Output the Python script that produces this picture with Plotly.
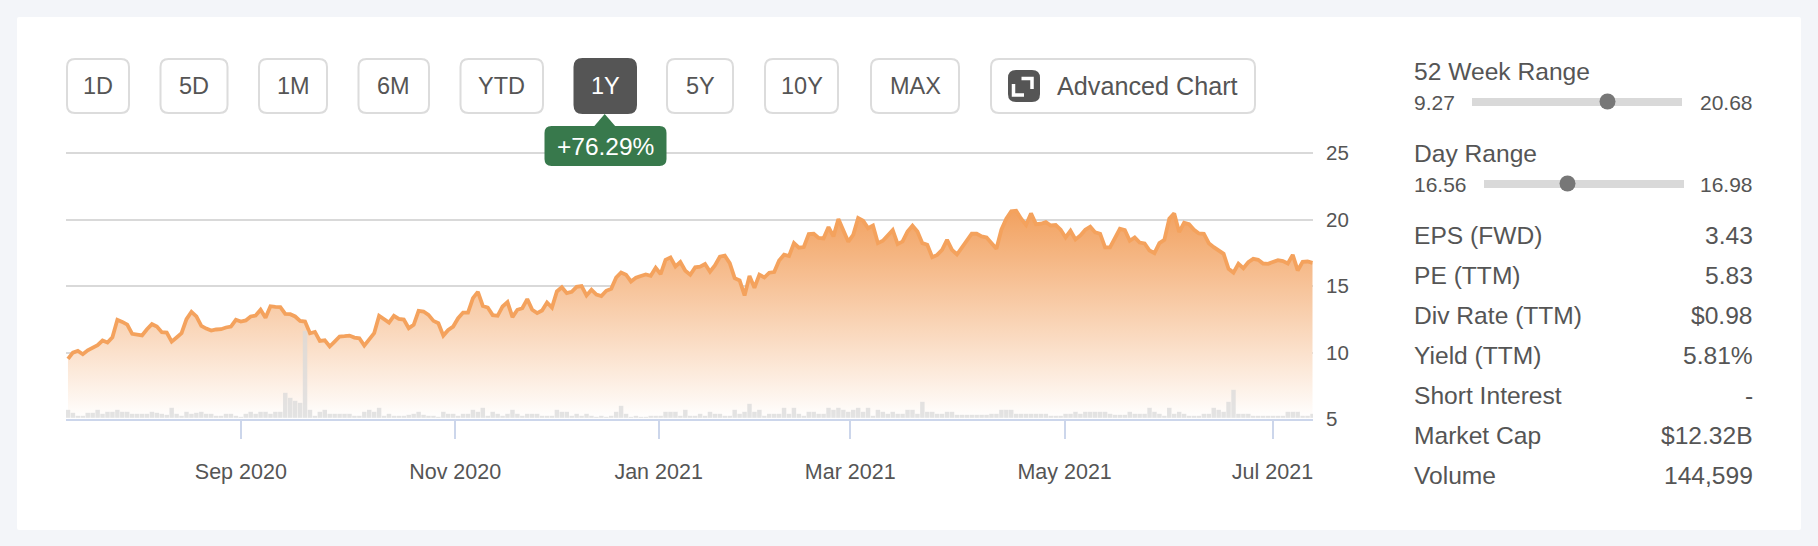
import pandas as pd
import plotly.graph_objects as go

W, H = 1818, 546
FONT = "Liberation Sans"
TXT = "#555555"

HOLIDAYS = ["2020-09-07", "2020-11-26", "2020-12-25", "2021-01-01", "2021-01-18",
            "2021-02-15", "2021-04-02", "2021-05-31", "2021-07-05"]
dates = [d.strftime("%Y-%m-%d") for d in pd.bdate_range("2020-07-14", "2021-07-14")
         if d.strftime("%Y-%m-%d") not in HOLIDAYS]

price = [
 9.52, 9.99, 10.12, 9.87, 10.17, 10.40, 10.55, 10.90, 10.75, 11.15,
 12.46, 12.30, 12.10, 11.40, 11.33, 11.28, 11.75, 12.13, 11.95, 11.53,
 11.50, 10.82, 11.13, 11.45, 12.51, 13.06, 12.71, 12.00, 11.80, 11.65,
 11.73, 11.75, 11.88, 11.95, 12.46, 12.33, 12.41, 12.71, 12.78, 13.21,
 12.61, 13.48, 13.43, 13.41, 12.91, 12.88, 12.71, 12.38, 12.33, 11.45,
 11.55, 10.87, 10.92, 10.45, 10.82, 11.20, 11.23, 11.27, 11.12, 11.07,
 10.52, 11.00, 11.45, 12.76, 12.51, 12.25, 12.76, 12.53, 12.48, 11.83,
 12.08, 13.13, 13.08, 12.83, 12.38, 12.20, 11.27, 11.70, 11.95, 12.58,
 13.00, 13.00, 14.09, 14.56, 13.50, 13.38, 12.81, 12.76, 13.46, 13.79,
 12.66, 13.21, 13.33, 14.01, 13.21, 12.96, 13.16, 13.76, 13.38, 14.59,
 14.91, 14.46, 14.56, 14.94, 15.00, 14.29, 14.72, 14.36, 14.24, 14.64,
 14.79, 15.64, 16.02, 15.85, 15.34, 15.62, 15.75, 15.87, 15.77, 16.37,
 15.90, 16.97, 17.15, 16.47, 16.80, 16.15, 15.85, 16.40, 16.45, 16.65,
 16.07, 16.55, 17.20, 17.28, 16.72, 15.59, 15.42, 14.29, 15.75, 14.87,
 15.85, 15.64, 16.00, 16.05, 16.92, 17.35, 17.25, 18.23, 17.88, 17.93,
 18.91, 18.93, 18.61, 18.58, 19.43, 18.73, 20.04, 19.23, 18.33, 18.85,
 20.11, 19.91, 19.35, 19.55, 18.22, 18.40, 18.80, 19.20, 18.15, 18.35,
 19.10, 19.53, 19.10, 18.22, 18.10, 17.17, 17.34, 17.72, 18.47, 17.72,
 17.37, 17.90, 18.52, 18.93, 18.93, 18.73, 18.65, 18.22, 17.80, 19.23,
 20.06, 20.61, 20.66, 20.06, 19.60, 20.46, 19.65, 19.68, 19.80, 19.55,
 19.58, 19.23, 18.65, 19.15, 18.50, 18.80, 19.23, 19.45, 19.03, 18.93,
 17.90, 17.90, 18.60, 19.30, 19.20, 18.40, 18.65, 18.27, 18.20, 17.67,
 17.47, 18.22, 18.47, 20.06, 20.46, 19.05, 19.75, 19.65, 19.23, 18.95,
 18.93, 18.22, 17.92, 17.67, 17.42, 16.29, 16.01, 16.67, 16.34, 16.79,
 17.04, 16.97, 16.69, 16.67, 16.79, 16.94, 16.87, 16.69, 17.34, 16.17,
 16.82, 16.84, 16.74,
]

# Volume, thousands of shares (scale)
volume = [
 400, 250, 100, 100, 250, 250, 400, 200, 300, 300,
 400, 300, 300, 200, 200, 200, 200, 300, 250, 200,
 150, 500, 200, 100, 300, 200, 250, 300, 200, 200,
 100, 100, 200, 200, 100, 50, 200, 300, 200, 300,
 300, 200, 300, 300, 1250, 1000, 850, 750, 4350, 400,
 100, 300, 400, 200, 200, 200, 200, 200, 100, 100,
 300, 400, 300, 500, 100, 200, 100, 100, 100, 150,
 200, 300, 150, 100, 100, 50, 300, 200, 200, 100,
 200, 200, 400, 300, 500, 100, 300, 200, 100, 200,
 400, 200, 100, 200, 200, 200, 100, 100, 100, 400,
 300, 300, 100, 200, 100, 200, 100, 50, 100, 50,
 100, 300, 600, 200, 50, 100, 50, 50, 100, 100,
 100, 300, 300, 300, 100, 400, 100, 100, 200, 100,
 300, 200, 200, 100, 100, 400, 200, 300, 700, 300,
 400, 100, 200, 200, 200, 500, 200, 500, 200, 100,
 300, 300, 200, 200, 500, 400, 500, 400, 300, 400,
 500, 300, 500, 100, 400, 300, 200, 300, 200, 200,
 400, 400, 200, 800, 300, 300, 200, 200, 300, 300,
 150, 150, 150, 150, 150, 150, 150, 200, 200, 400,
 400, 400, 200, 200, 200, 200, 200, 200, 200, 100,
 100, 100, 200, 200, 300, 200, 300, 300, 300, 300,
 300, 200, 150, 150, 150, 300, 200, 200, 200, 500,
 300, 200, 100, 500, 200, 300, 200, 100, 100, 100,
 200, 200, 500, 400, 300, 800, 1400, 200, 200, 200,
 100, 100, 100, 100, 100, 100, 100, 300, 300, 300,
 100, 100, 200,
]

# Ordinal position of each month label along the trading-day axis
tick_positions = [35, 78.4, 119.6, 158.4, 201.8, 243.9]
tick_labels = ["Sep 2020", "Nov 2020", "Jan 2021", "Mar 2021", "May 2021", "Jul 2021"]
price_ticks = [5, 10, 15, 20, 25]

period_labels = ["1D", "5D", "1M", "6M", "YTD", "1Y", "5Y", "10Y", "MAX"]
active_period = "1Y"
change_label = "+76.29%"
adv_label = "Advanced Chart"

stat_labels = ["EPS (FWD)", "PE (TTM)", "Div Rate (TTM)", "Yield (TTM)", "Short Interest", "Market Cap", "Volume"]
stat_values = ["3.43", "5.83", "$0.98", "5.81%", "-", "$12.32B", "144,599"]

# Pixel helpers for the page furniture
def fx(x): return x / W
def fy(y): return 1 - y / H

def rrect(x0, y0, x1, y1, r):
    pts = [("M", x0 + r, y0), ("L", x1 - r, y0), ("Q", x1, y0, x1, y0 + r), ("L", x1, y1 - r),
           ("Q", x1, y1, x1 - r, y1), ("L", x0 + r, y1), ("Q", x0, y1, x0, y1 - r),
           ("L", x0, y0 + r), ("Q", x0, y0, x0 + r, y0)]
    out = []
    for p in pts:
        if p[0] == "Q":
            out.append(f"Q{fx(p[1])},{fy(p[2])} {fx(p[3])},{fy(p[4])}")
        else:
            out.append(f"{p[0]}{fx(p[1])},{fy(p[2])}")
    return " ".join(out) + " Z"

def poly(points, close=False):
    s = " ".join(("M" if i == 0 else "L") + f"{fx(x)},{fy(y)}" for i, (x, y) in enumerate(points))
    return s + (" Z" if close else "")

shapes, annos = [], []

def box(x0, y0, x1, y1, r, fill, line=None, lw=0, layer="above"):
    shapes.append(dict(type="path", path=rrect(x0, y0, x1, y1, r), xref="paper", yref="paper",
                       fillcolor=fill, line=dict(color=line or "rgba(0,0,0,0)", width=lw), layer=layer))

def text(x, y, s, size, color=TXT, anchor="left"):
    annos.append(dict(x=fx(x), y=fy(y), xref="paper", yref="paper", text=s, showarrow=False,
                      xanchor=anchor, yanchor="middle", borderpad=0, borderwidth=0,
                      font=dict(family=FONT, size=size, color=color)))

box(17, 17, 1801, 530, 2, "#ffffff", layer="below")

btn_x = [(67, 129), (160.5, 227.5), (259, 327), (358.5, 429), (460.5, 543), (574.5, 636),
         (667, 733), (765, 838), (871, 959)]
for lab, (a, b) in zip(period_labels, btn_x):
    on = lab == active_period
    box(a, 59, b, 113, 8, "#555555" if on else "#ffffff", "#555555" if on else "#dcdcdc", 2)
    text((a + b) / 2, 86, lab, 23.5, "#ffffff" if on else TXT, "center")

# change tag
shapes.append(dict(type="path", path=poly([(593.5, 127), (604.7, 114), (616, 127)], True),
                   xref="paper", yref="paper", fillcolor="#38794c", line=dict(width=0)))
box(544.5, 126, 666.5, 166, 7, "#38794c")
text(605.5, 146.5, change_label, 24.5, "#ffffff", "center")

# advanced chart button
box(991, 59, 1255, 113, 8, "#ffffff", "#dcdcdc", 2)
box(1008, 70, 1040, 102, 8, "#555555")
for pts in ([(1021.5, 78.5), (1032, 78.5), (1032, 89)], [(1013.5, 84), (1013.5, 95), (1024, 95)]):
    shapes.append(dict(type="path", path=poly(pts), xref="paper", yref="paper",
                       line=dict(color="#ffffff", width=3.5)))
text(1056.5, 85.5, adv_label, 25.2)

# range panels
def slider(title, y, lo, hi, x0, x1, dot):
    text(1414, y, title, 24.6)
    text(1414, y + 31, lo, 21)
    text(1753, y + 31, hi, 21, anchor="right")
    shapes.append(dict(type="rect", x0=fx(x0), x1=fx(x1), y0=fy(y + 26.5), y1=fy(y + 34.5),
                       xref="paper", yref="paper", fillcolor="#d9d9d9", line=dict(width=0)))
    shapes.append(dict(type="circle", x0=fx(dot - 8), x1=fx(dot + 8), y0=fy(y + 38), y1=fy(y + 22),
                       xref="paper", yref="paper", fillcolor="#777777", line=dict(width=0)))

slider("52 Week Range", 71.5, "9.27", "20.68", 1472, 1682, 1607.5)
slider("Day Range", 153.5, "16.56", "16.98", 1484, 1684, 1567.5)

row_y = [235.7, 275.7, 315.7, 355.7, 395.7, 435.7, 475.7]
for lab, val, y in zip(stat_labels, stat_values, row_y):
    text(1414, y, lab, 24.6)
    text(1753, y, val, 24.6, anchor="right")

fig = go.Figure()
fig.add_trace(go.Scatter(
    x=dates, y=price, mode="lines", yaxis="y", hoverinfo="skip",
    line=dict(color="#f4a25d", width=3.8), fill="tozeroy",
    fillgradient=dict(type="vertical", start=5, stop=20.7,
                      colorscale=[[0, "#ffffff"], [1, "#f2a15f"]]),
))
fig.add_trace(go.Bar(
    x=dates, y=volume, yaxis="y2", hoverinfo="skip",
    marker=dict(color="rgba(218,218,218,0.75)", line=dict(width=0)),
))

fig.update_layout(
    width=W, height=H, autosize=False, showlegend=False, bargap=0.1,
    margin=dict(l=0, r=0, t=0, b=0, autoexpand=False),
    paper_bgcolor="#f3f5f9", plot_bgcolor="rgba(0,0,0,0)",
    font=dict(family=FONT, color=TXT),
    shapes=shapes, annotations=annos,
    xaxis=dict(type="category", categoryorder="array", categoryarray=dates,
               domain=[66 / W, 1313 / W], range=[-0.4, 252.1],
               tickmode="array", tickvals=tick_positions, ticktext=tick_labels,
               ticks="outside", ticklen=18, tickwidth=2, tickcolor="#ccd6eb",
               showline=True, linecolor="#ccd6eb", linewidth=2, showgrid=False,
               ticklabelstandoff=14, tickfont=dict(family=FONT, size=21.5, color=TXT),
               tickangle=0, fixedrange=True),
    yaxis=dict(domain=[1 - 419 / H, 1 - 151.4 / H], range=[5, 25.12], side="right",
               tickmode="array", tickvals=price_ticks, showgrid=True, gridcolor="#d9d9d9",
               gridwidth=2, zeroline=False, showline=False, ticks="outside", ticklen=8,
               tickcolor="rgba(0,0,0,0)", tickfont=dict(family=FONT, size=20.5, color=TXT),
               fixedrange=True),
    yaxis2=dict(domain=[1 - 419 / H, 1 - 151.4 / H], range=[-60, 13320], overlaying="y",
                visible=False, fixedrange=True),
)

fig.write_html("out.html", config={"displayModeBar": False, "responsive": False},
               post_script="document.body.style.margin='0';document.body.style.overflow='hidden';")
